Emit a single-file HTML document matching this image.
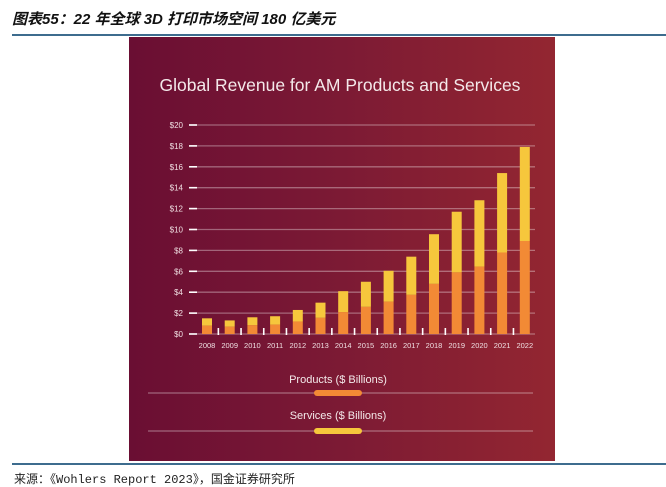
<!DOCTYPE html>
<html><head><meta charset="utf-8"><style>
body{margin:0;width:666px;height:479px;background:#fff;position:relative;overflow:hidden;font-family:"Liberation Sans","Noto Sans CJK SC",sans-serif}
#hdr{position:absolute;left:12px;top:8px;font-size:15px;font-style:italic;font-weight:bold;color:#111;font-family:"Liberation Sans","Noto Sans CJK SC",sans-serif}
#rule{position:absolute;left:12px;right:0;top:34px;height:2px;background:#3d6c8e}
#panel{position:absolute;left:129px;top:37px;width:426px;height:424px;background:linear-gradient(90deg,#6a0e33,#7c1a34 50%,#932631)}
#foot{position:absolute;left:12px;right:0;top:463px;height:2px;background:#3d6c8e}
#src{position:absolute;left:14px;top:470px;font-size:12px;color:#222;font-family:"Liberation Mono","Noto Sans CJK SC",monospace}
</style></head><body>
<div id="hdr">图表55：22 年全球 3D 打印市场空间 180 亿美元</div>
<div id="rule"></div>
<div id="panel">
<svg id="chart" width="426" height="424"></svg>
</div>
<div id="foot"></div>
<div id="src">来源：《Wohlers Report 2023》，国金证券研究所</div>
<script>
const years=["2008","2009","2010","2011","2012","2013","2014","2015","2016","2017","2018","2019","2020","2021","2022"];
const products=[0.8,0.7,0.85,0.9,1.2,1.55,2.1,2.6,3.1,3.75,4.8,5.9,6.45,7.8,8.9];
const totals=[1.5,1.3,1.6,1.7,2.3,3.0,4.1,5.0,6.05,7.4,9.55,11.7,12.8,15.4,17.9];
const yTicks=[0,2,4,6,8,10,12,14,16,18,20];
const svg=document.getElementById('chart');
const NS='http://www.w3.org/2000/svg';
const ox=129,oy=37;
function y(v){return 334-oy-v*10.45;}
function x(i){return 207-ox+i*22.7;}
function mk(t,a,p){const e=document.createElementNS(NS,t);for(const k in a)e.setAttribute(k,a[k]);(p||svg).appendChild(e);return e;}
let e=mk('text',{x:211,y:54,'text-anchor':'middle','font-size':17.5,fill:'#f4e9ea','font-family':'Liberation Sans, sans-serif'});
e.textContent='Global Revenue for AM Products and Services';


yTicks.forEach(v=>{
 let g=mk('line',{x1:60,x2:406,y1:y(v),y2:y(v),stroke:'rgba(255,255,255,0.35)','stroke-width':1.3});
 
 
 let t=mk('line',{x1:60,x2:68,y1:y(v),y2:y(v),stroke:'#fff','stroke-width':1.6});
 
 
 let l=mk('text',{x:54,y:y(v)+3,'text-anchor':'end','font-size':8,fill:'#f0dfe2'});
 l.textContent='$'+v;
 
 
});
years.forEach((yr,i)=>{
 const bw=10;
 let p=mk('rect',{x:x(i)-bw/2,y:y(products[i]),width:bw,height:y(0)-y(products[i]),fill:'#f28a35'});
 
 
 let s=mk('rect',{x:x(i)-bw/2,y:y(totals[i]),width:bw,height:y(products[i])-y(totals[i]),fill:'#f6c73c'});
 
 
 if(i>0){let tk=mk('line',{x1:x(i)-11.35,x2:x(i)-11.35,y1:y(0)-6,y2:y(0)+1,stroke:'#fff','stroke-width':1.6});
 
 }
 let t=mk('text',{x:x(i),y:y(0)+14,'text-anchor':'middle','font-size':7.5,fill:'#f0dfe2'});
 t.textContent=yr;
 
 
});
[["Products ($ Billions)",'#f28a35',346,356],["Services ($ Billions)",'#f6c73c',382,394]].forEach((d,k)=>{
 let t=mk('text',{x:209,y:d[2],'text-anchor':'middle','font-size':11,fill:'#f4e9ea'});
 t.textContent=d[0];
 
 
 let l=mk('line',{x1:19,x2:404,y1:d[3],y2:d[3],stroke:'rgba(255,255,255,0.3)','stroke-width':1.5});
 
 
 let pl=mk('rect',{x:185,y:d[3]-3,width:48,height:6,rx:3,fill:d[1]});
 
 
});
</script>
</body></html>
